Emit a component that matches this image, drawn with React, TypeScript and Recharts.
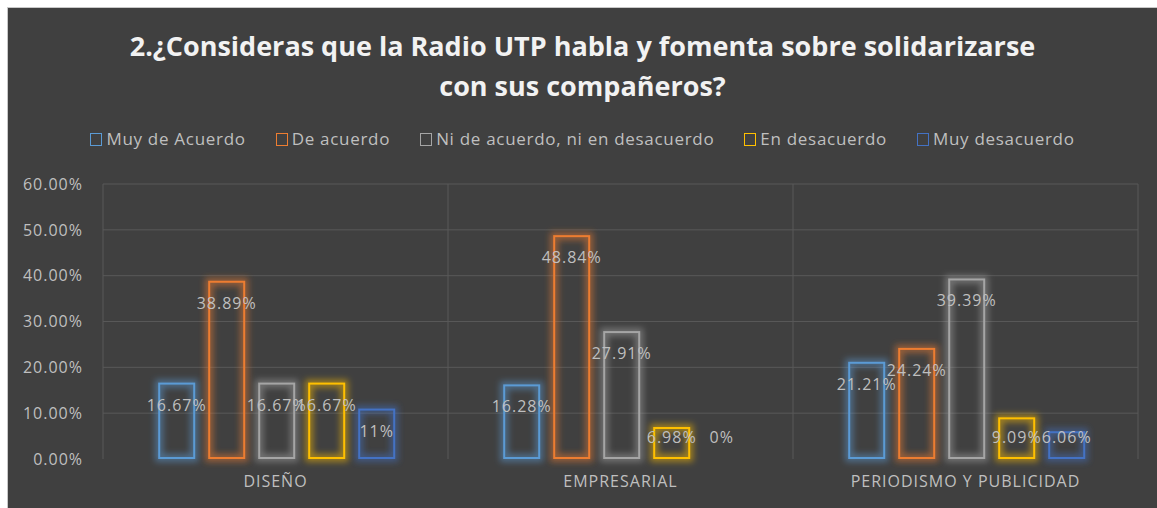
import React from 'react'
import { BarChart, Bar, XAxis, YAxis, CartesianGrid, LabelList } from 'recharts'

const categories = ['DISEÑO', 'EMPRESARIAL', 'PERIODISMO Y PUBLICIDAD']
const seriesNames = [
  'Muy de Acuerdo',
  'De acuerdo',
  'Ni de acuerdo, ni en desacuerdo',
  'En desacuerdo',
  'Muy desacuerdo',
]
const muyDeAcuerdo = [16.67, 16.28, 21.21]
const deAcuerdo = [38.89, 48.84, 24.24]
const niDeAcuerdo = [16.67, 27.91, 39.39]
const enDesacuerdo = [16.67, 6.98, 9.09]
const muyDesacuerdo = [11, 0, 6.06]
const yTicks = [0, 10, 20, 30, 40, 50, 60]

const colors = ['#5B9BD5', '#ED7D31', '#A5A5A5', '#FFC000', '#4472C4']
const keys = ['s0', 's1', 's2', 's3', 's4']
const series = [muyDeAcuerdo, deAcuerdo, niDeAcuerdo, enDesacuerdo, muyDesacuerdo]

const data = categories.map((name, i) => {
  const row: Record<string, any> = { name }
  series.forEach((s, j) => {
    row[keys[j]] = s[i]
  })
  return row
})

const textColor = '#bfbfbf'
const font = "'Open Sans', 'DejaVu Sans', sans-serif"
const tickStyle = { fill: textColor, fontSize: 16, fontFamily: font, letterSpacing: 1 }

const formatLabel = (v: number) =>
  Number.isInteger(v) ? `${v}%` : `${v.toFixed(2)}%`

const GlowBar = (props: any) => {
  const { x, y, width, height, color } = props
  if (!height || height <= 0) return null
  const fid = `glow-${color.slice(1)}`
  return (
    <g>
      <defs>
        <filter id={fid} x="-50%" y="-50%" width="200%" height="200%">
          <feGaussianBlur stdDeviation="3" />
        </filter>
      </defs>
      <rect
        x={x + 1}
        y={y + 1}
        width={width - 2}
        height={height - 2}
        fill="none"
        stroke={color}
        strokeWidth={8}
        strokeOpacity={0.5}
        filter={`url(#${fid})`}
      />
      <rect
        x={x + 1}
        y={y + 1}
        width={width - 2}
        height={height - 2}
        fill="none"
        stroke={color}
        strokeWidth={2}
      />
    </g>
  )
}

const BarLabel = (props: any) => {
  const { x, y, width, height, value } = props
  if (value === undefined || value === null) return null
  const cy = Math.min(y + 22, y + height - 22)
  return (
    <text
      x={x + width / 2}
      y={cy}
      fill={textColor}
      fontSize={16}
      letterSpacing={1}
      fontFamily={font}
      textAnchor="middle"
      dominantBaseline="central"
    >
      {formatLabel(value)}
    </text>
  )
}

export default function App() {
  return (
    <div
      style={{
        position: 'absolute',
        left: 7,
        top: 7,
        width: 1150,
        height: 501,
        boxSizing: 'border-box',
        borderLeft: '1px solid #c8c8c8',
        borderTop: '1px solid #c8c8c8',
        background: '#404040',
        overflow: 'hidden',
      }}
    >
      <div
        style={{
          position: 'absolute',
          left: 0,
          top: 18,
          width: 1149,
          textAlign: 'center',
          color: '#f2f2f2',
          fontFamily: "'Open Sans', sans-serif",
          fontWeight: 700,
          fontSize: 27,
          lineHeight: '40px',
        }}
      >
        2.¿Consideras que la Radio UTP habla y fomenta sobre solidarizarse
        <br />
        con sus compañeros?
      </div>
      <div
        style={{
          position: 'absolute',
          left: 0,
          top: 120,
          width: 1149,
          display: 'flex',
          justifyContent: 'center',
          gap: 30,
          color: textColor,
          fontFamily: font,
          fontSize: 17,
          letterSpacing: 0.7,
          lineHeight: '22px',
          whiteSpace: 'nowrap',
        }}
      >
        {seriesNames.map((n, i) => (
          <div key={n} style={{ display: 'flex', alignItems: 'center' }}>
            <span
              style={{
                display: 'inline-block',
                width: 10,
                height: 11,
                border: `1.5px solid ${colors[i]}`,
                marginRight: 4,
              }}
            />
            {n}
          </div>
        ))}
      </div>
      <div style={{ position: 'absolute', left: 0, top: 0 }}>
        <BarChart
          width={1149}
          height={500}
          data={data}
          margin={{ top: 176, right: 19, bottom: 0, left: 0 }}
          barCategoryGap="16%"
          barGap={13}
        >
          <CartesianGrid
            stroke="#585858"
            horizontalCoordinatesGenerator={(p: any) => {
              const { offset } = p
              return yTicks
                .filter((t) => t > 0)
                .map((t) => {
                  try {
                    const v = p.yAxis.scale(t)
                    if (typeof v === 'number' && !isNaN(v)) return v
                  } catch (e) {}
                  return offset.top + offset.height * (1 - t / 60)
                })
            }}
            verticalCoordinatesGenerator={({ offset }: any) =>
              [0, 1, 2, 3].map((i) => offset.left + (offset.width * i) / categories.length)
            }
          />
          <XAxis
            dataKey="name"
            axisLine={false}
            tickLine={false}
            tickSize={0}
            tickMargin={17}
            height={49}
            tick={tickStyle}
          />
          <YAxis
            domain={[0, 60]}
            ticks={yTicks}
            axisLine={false}
            tickLine={false}
            tickSize={0}
            tickMargin={20}
            width={95}
            tickFormatter={(v: number) => `${v.toFixed(2)}%`}
            tick={tickStyle}
          />
          {keys.map((k, i) => (
            <Bar
              key={k}
              dataKey={k}
              name={seriesNames[i]}
              isAnimationActive={false}
              shape={(p: any) => <GlowBar {...p} color={colors[i]} />}
            >
              <LabelList dataKey={k} content={<BarLabel />} />
            </Bar>
          ))}
        </BarChart>
      </div>
    </div>
  )
}
